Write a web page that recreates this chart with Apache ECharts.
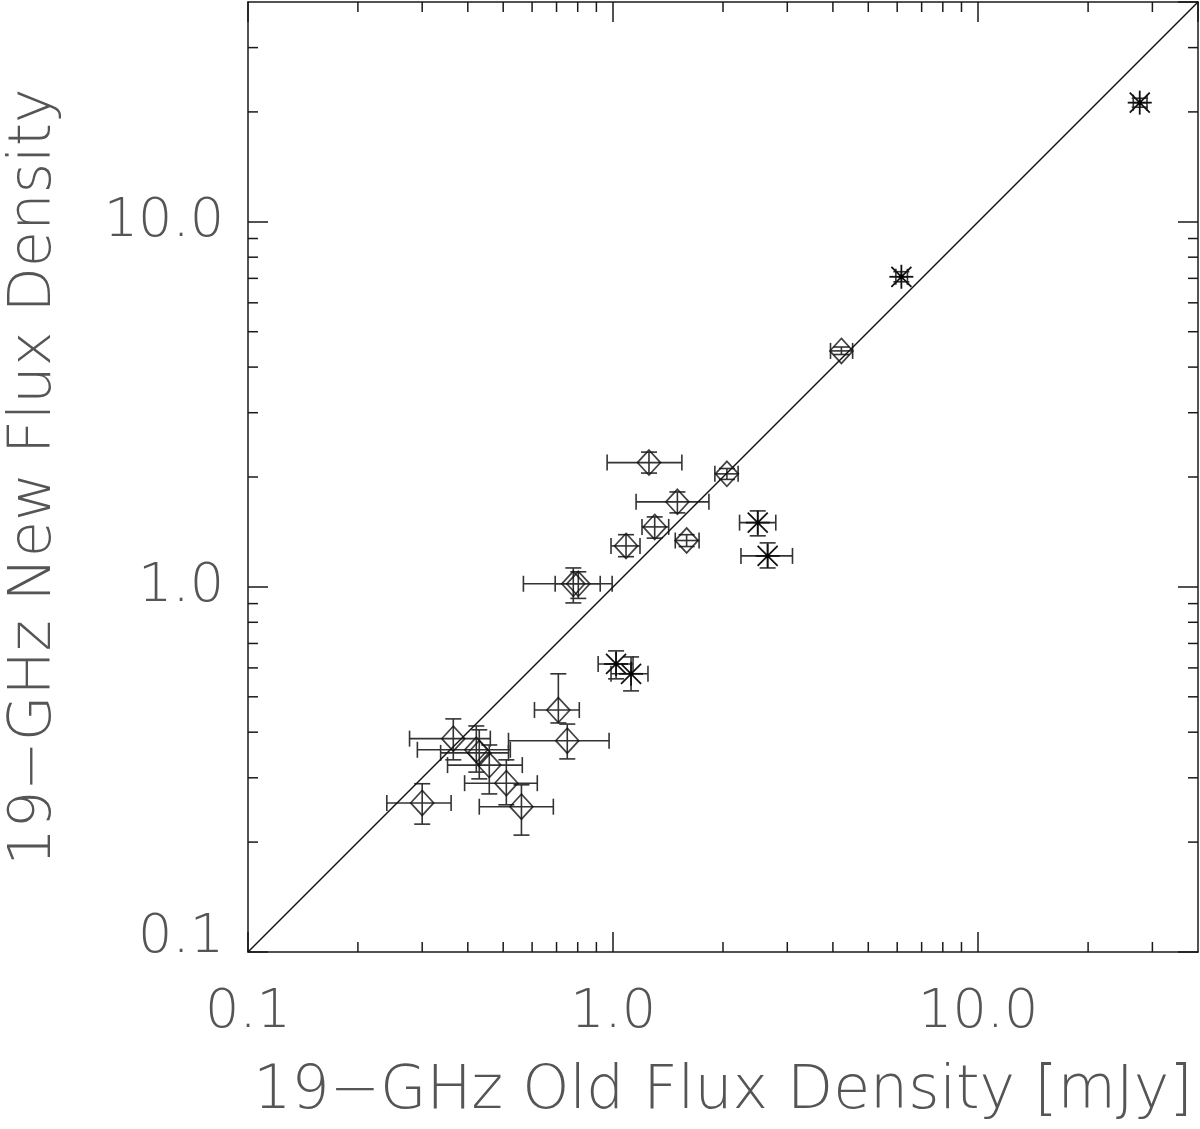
<!DOCTYPE html>
<html>
<head>
<meta charset="utf-8">
<script src="https://cdn.jsdelivr.net/npm/echarts@6/dist/echarts.min.js"></script>
<style>
  html, body { margin: 0; padding: 0; background: #fff; }
  #chart { width: 1200px; height: 1129px; }
</style>
</head>
<body>
<div id="chart"></div>
<script>
// axis ticks
var xTickValues = [0.1, 1, 10];
var xTickLabels = ['0.1', '1.0', '10.0'];
var yTickValues = [0.1, 1, 10];
var yTickLabels = ['0.1', '1.0', '10.0'];
var minorTicks = [0.2, 0.3, 0.4, 0.5, 0.6, 0.7, 0.8, 0.9, 2, 3, 4, 5, 6, 7, 8, 9, 20, 30];

// diamonds: old flux, new flux, with error ranges
var diamondX    = [0.30, 0.365, 0.422, 0.430, 0.458, 0.510, 0.561, 0.708, 0.749, 0.778, 0.803, 1.085, 1.254, 1.30, 1.50, 1.59, 2.05, 4.22];
var diamondXLo  = [0.24, 0.277, 0.291, 0.337, 0.352, 0.392, 0.430, 0.609, 0.517, 0.568, 0.694, 0.987, 0.963, 1.20, 1.156, 1.48, 1.90, 3.94];
var diamondXHi  = [0.36, 0.461, 0.523, 0.517, 0.564, 0.620, 0.686, 0.808, 0.975, 0.994, 0.922, 1.185, 1.543, 1.42, 1.83, 1.72, 2.20, 4.53];
var diamondY    = [0.256, 0.384, 0.358, 0.351, 0.325, 0.290, 0.250, 0.460, 0.379, 1.02, 1.02, 1.295, 2.19, 1.46, 1.71, 1.34, 2.04, 4.43];
var diamondYLo  = [0.224, 0.336, 0.311, 0.298, 0.271, 0.253, 0.209, 0.424, 0.338, 0.904, 0.93, 1.21, 2.05, 1.36, 1.595, 1.29, 1.97, 4.33];
var diamondYHi  = [0.289, 0.435, 0.416, 0.406, 0.369, 0.336, 0.287, 0.578, 0.421, 1.127, 1.10, 1.39, 2.34, 1.555, 1.82, 1.39, 2.11, 4.54];

// asterisks
var starX   = [1.019, 1.120, 2.49, 2.65, 6.16, 27.7];
var starXLo = [0.910, 0.987, 2.22, 2.24, 5.95, 26.6];
var starXHi = [1.134, 1.246, 2.79, 3.10, 6.40, 29.0];
var starY   = [0.615, 0.578, 1.50, 1.216, 7.07, 21.2];
var starYLo = [0.560, 0.519, 1.38, 1.127, 6.85, 20.6];
var starYHi = [0.668, 0.643, 1.615, 1.32, 7.30, 21.8];

var axisMin = 0.1, axisMax = 40;
var lineColor = '#1a1a1a';
var textColor = '#555';
var fontFamily = 'DejaVu Sans';

function tickLabel(values, labels, v) {
  for (var i = 0; i < values.length; i++) {
    if (Math.abs(Math.log10(v) - Math.log10(values[i])) < 1e-6) return labels[i];
  }
  return '';
}

function rows(x, xlo, xhi, y, ylo, yhi) {
  return x.map(function (v, i) { return [v, y[i], xlo[i], xhi[i], ylo[i], yhi[i]]; });
}

function errorBars(params, api) {
  var x = api.value(0), y = api.value(1);
  var xl = api.coord([api.value(2), y]);
  var xh = api.coord([api.value(3), y]);
  var yl = api.coord([x, api.value(4)]);
  var yh = api.coord([x, api.value(5)]);
  var cap = 8;
  var st = { stroke: '#333', lineWidth: 1.6 };
  var seg = function (x1, y1, x2, y2) {
    return { type: 'line', shape: { x1: x1, y1: y1, x2: x2, y2: y2 }, style: st };
  };
  return {
    type: 'group',
    children: [
      seg(xl[0], xl[1], xh[0], xh[1]),
      seg(xl[0], xl[1] - cap, xl[0], xl[1] + cap),
      seg(xh[0], xh[1] - cap, xh[0], xh[1] + cap),
      seg(yl[0], yl[1], yh[0], yh[1]),
      seg(yl[0] - cap, yl[1], yl[0] + cap, yl[1]),
      seg(yh[0] - cap, yh[1], yh[0] + cap, yh[1])
    ]
  };
}

function asterisk(params, api) {
  var c = api.coord([api.value(0), api.value(1)]);
  var r = 12, d = 10;
  var st = { stroke: '#111', lineWidth: 1.8 };
  var seg = function (x1, y1, x2, y2) {
    return { type: 'line', shape: { x1: x1, y1: y1, x2: x2, y2: y2 }, style: st };
  };
  return {
    type: 'group',
    children: [
      seg(c[0] - r, c[1], c[0] + r, c[1]),
      seg(c[0], c[1] - r, c[0], c[1] + r),
      seg(c[0] - d, c[1] - d, c[0] + d, c[1] + d),
      seg(c[0] - d, c[1] + d, c[0] + d, c[1] - d),
      { type: 'circle', shape: { cx: c[0], cy: c[1], r: 2.2 }, style: { fill: '#000' } }
    ]
  };
}

function minorX(params, api) {
  var v = api.value(0);
  var b = api.coord([v, axisMin]);
  var t = api.coord([v, axisMax]);
  var st = { stroke: lineColor, lineWidth: 1.5 };
  return {
    type: 'group',
    children: [
      { type: 'line', shape: { x1: b[0], y1: b[1], x2: b[0], y2: b[1] - 10 }, style: st },
      { type: 'line', shape: { x1: t[0], y1: t[1], x2: t[0], y2: t[1] + 10 }, style: st }
    ]
  };
}

function minorY(params, api) {
  var v = api.value(1);
  var l = api.coord([axisMin, v]);
  var r = api.coord([axisMax, v]);
  var st = { stroke: lineColor, lineWidth: 1.5 };
  return {
    type: 'group',
    children: [
      { type: 'line', shape: { x1: l[0], y1: l[1], x2: l[0] + 10, y2: l[1] }, style: st },
      { type: 'line', shape: { x1: r[0], y1: r[1], x2: r[0] - 10, y2: r[1] }, style: st }
    ]
  };
}

var chart = echarts.init(document.getElementById('chart'));

var axisLine = { show: true, lineStyle: { color: lineColor, width: 1.5 } };
var majorTick = { show: true, inside: true, length: 20, lineStyle: { color: lineColor, width: 1.5 } };

var option = {
  animation: false,
  backgroundColor: '#fff',
  grid: { left: 248, right: 2, top: 2, bottom: 177, outerBoundsMode: 'none', containLabel: false },
  xAxis: [
    {
      type: 'log', logBase: 10, min: axisMin, max: axisMax, interval: 1,
      position: 'bottom',
      name: '19\u2212GHz Old Flux Density [mJy]',
      nameLocation: 'middle', nameGap: 110,
      nameTextStyle: { fontFamily: fontFamily, fontWeight: 200, fontSize: 60, color: textColor },
      axisLine: axisLine, axisTick: majorTick, splitLine: { show: false },
      axisLabel: {
        margin: 34, fontFamily: fontFamily, fontWeight: 200, fontSize: 54, color: textColor,
        showMaxLabel: false,
        formatter: function (v) { return tickLabel(xTickValues, xTickLabels, v); }
      }
    },
    {
      type: 'log', logBase: 10, min: axisMin, max: axisMax, interval: 1,
      position: 'top',
      axisLine: axisLine, axisTick: majorTick, splitLine: { show: false },
      axisLabel: { show: false }
    }
  ],
  yAxis: [
    {
      type: 'log', logBase: 10, min: axisMin, max: axisMax, interval: 1,
      position: 'left',
      name: '19\u2212GHz New Flux Density',
      nameLocation: 'middle', nameGap: 184,
      nameTextStyle: { fontFamily: fontFamily, fontWeight: 200, fontSize: 59, color: textColor },
      axisLine: axisLine, axisTick: majorTick, splitLine: { show: false },
      axisLabel: {
        margin: 24, fontFamily: fontFamily, fontWeight: 200, fontSize: 54, color: textColor,
        showMaxLabel: false,
        formatter: function (v) {
          var s = tickLabel(yTickValues, yTickLabels, v);
          if (s && v < 0.5) return '{lo|' + s + '}';
          return s;
        },
        rich: {
          lo: { fontFamily: fontFamily, fontWeight: 200, fontSize: 54, color: textColor, padding: [0, 0, 28, 0] }
        }
      }
    },
    {
      type: 'log', logBase: 10, min: axisMin, max: axisMax, interval: 1,
      position: 'right',
      axisLine: axisLine, axisTick: majorTick, splitLine: { show: false },
      axisLabel: { show: false }
    }
  ],
  series: [
    {
      type: 'line',
      data: [[axisMin, axisMin], [axisMax, axisMax]],
      showSymbol: false,
      lineStyle: { color: '#111', width: 1.5 },
      silent: true
    },
    {
      type: 'custom',
      renderItem: minorX,
      data: minorTicks.map(function (v) { return [v, 1]; }),
      silent: true
    },
    {
      type: 'custom',
      renderItem: minorY,
      data: minorTicks.map(function (v) { return [1, v]; }),
      silent: true
    },
    {
      type: 'custom',
      renderItem: errorBars,
      encode: { x: [0, 2, 3], y: [1, 4, 5] },
      data: rows(diamondX, diamondXLo, diamondXHi, diamondY, diamondYLo, diamondYHi),
      silent: true
    },
    {
      type: 'custom',
      renderItem: errorBars,
      encode: { x: [0, 2, 3], y: [1, 4, 5] },
      data: rows(starX, starXLo, starXHi, starY, starYLo, starYHi),
      silent: true
    },
    {
      type: 'scatter',
      symbol: 'diamond',
      symbolSize: [23, 25],
      itemStyle: { color: 'rgba(0,0,0,0)', borderColor: '#111', borderWidth: 1.7 },
      data: diamondX.map(function (v, i) { return [v, diamondY[i]]; }),
      silent: true,
      z: 3
    },
    {
      type: 'custom',
      renderItem: asterisk,
      data: starX.map(function (v, i) { return [v, starY[i]]; }),
      silent: true,
      z: 3
    }
  ]
};

chart.setOption(option);
</script>
</body>
</html>
